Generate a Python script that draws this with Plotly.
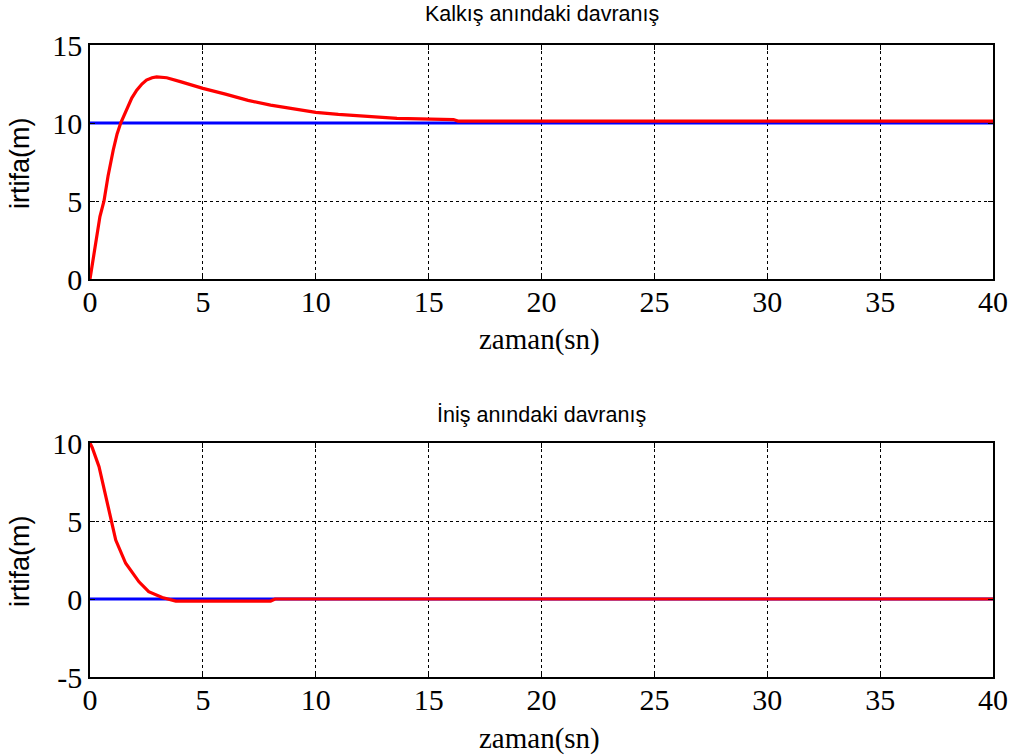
import plotly.graph_objects as go

# --- data ---
t_kalkis = [0, 0.15, 0.3, 0.44, 0.62, 0.8, 1.03, 1.2, 1.36, 1.62, 1.85, 2.07, 2.3, 2.5, 2.75, 2.95, 3.4,
            4.0, 5.0, 6.0, 7.0, 8.0, 9.0, 10.0, 11.0, 12.0, 13.6, 16.1, 16.3, 40]
h_kalkis = [0, 1.3, 2.7, 4.0, 5.0, 6.6, 8.27, 9.3, 10.0, 10.83, 11.6, 12.1, 12.5, 12.75, 12.9, 12.95, 12.9,
            12.65, 12.22, 11.85, 11.45, 11.15, 10.9, 10.68, 10.55, 10.45, 10.3, 10.22, 10.12, 10.12]
t_ref_kalkis = [0, 40]
ref_kalkis = [10, 10]

t_inis = [0, 0.1, 0.4, 0.84, 1.14, 1.58, 2.17, 2.6, 3.2, 3.8, 8.0, 8.2, 40]
h_inis = [10, 9.7, 8.48, 5.7, 3.78, 2.29, 1.1, 0.47, 0.1, -0.13, -0.13, 0.0, 0.0]
t_ref_inis = [0, 40]
ref_inis = [0, 0]

x_ticks = [0, 5, 10, 15, 20, 25, 30, 35, 40]
y_ticks_top = [0, 5, 10, 15]
y_ticks_bot = [-5, 0, 5, 10]
y_ticktext_bot = ["-5", "0", "5", "10"]

W, H = 1023, 755
SERIF = "Liberation Serif, Times New Roman, serif"
SANS = "Liberation Sans, Arial, sans-serif"

fig = go.Figure()
fig.add_trace(go.Scatter(x=t_ref_kalkis, y=ref_kalkis, mode="lines",
                         line=dict(color="#0000ff", width=3), xaxis="x", yaxis="y"))
fig.add_trace(go.Scatter(x=t_kalkis, y=h_kalkis, mode="lines",
                         line=dict(color="#ff0000", width=3.2), xaxis="x", yaxis="y"))
fig.add_trace(go.Scatter(x=t_ref_inis, y=ref_inis, mode="lines",
                         line=dict(color="#0000ff", width=3), xaxis="x2", yaxis="y2"))
fig.add_trace(go.Scatter(x=t_inis, y=h_inis, mode="lines",
                         line=dict(color="#ff0000", width=3.2), xaxis="x2", yaxis="y2"))

tickfont = dict(family=SERIF, size=30, color="black")
axis_common = dict(showline=True, mirror="allticks", linecolor="black", linewidth=1.5,
                   ticks="inside", ticklen=5, tickcolor="black", tickwidth=1,
                   showgrid=True, gridcolor="black", griddash="dot", gridwidth=1,
                   zeroline=False, tickfont=tickfont, automargin=False)

x0, x1 = 90, 993
top_y0, top_y1 = 45, 279
bot_y0, bot_y1 = 443, 677
xdom = [x0 / W, x1 / W]

def px_x(p):
    return p / W

def px_y(p):
    return 1 - p / H

annotations = []
for title, ty in [("Kalkış anındaki davranış", 14), ("İniş anındaki davranış", 415)]:
    annotations.append(dict(text=title, x=px_x((x0 + x1) / 2), y=px_y(ty), xref="paper", yref="paper",
                            showarrow=False, xanchor="center", yanchor="middle",
                            font=dict(family=SANS, size=21.5, color="black")))
for ly in [339, 738]:
    annotations.append(dict(text="zaman(sn)", x=px_x(539), y=px_y(ly), xref="paper", yref="paper",
                            showarrow=False, xanchor="center", yanchor="middle",
                            font=dict(family=SERIF, size=29, color="black")))
for cy in [(top_y0 + top_y1) / 2 + 2, (bot_y0 + bot_y1) / 2 + 2]:
    annotations.append(dict(text="irtifa(m)", x=px_x(20), y=px_y(cy), xref="paper", yref="paper",
                            showarrow=False, xanchor="center", yanchor="middle", textangle=-90,
                            font=dict(family=SANS, size=27, color="black")))

fig.update_layout(
    width=W, height=H,
    margin=dict(l=0, r=0, t=0, b=0),
    paper_bgcolor="white", plot_bgcolor="white",
    showlegend=False,
    xaxis=dict(domain=xdom, anchor="y", range=[0, 40], tickvals=x_ticks, ticklabelstandoff=-5,
               **axis_common),
    yaxis=dict(domain=[px_y(top_y1), px_y(top_y0)], anchor="x", range=[0, 15],
               tickvals=y_ticks_top, **axis_common),
    xaxis2=dict(domain=xdom, anchor="y2", range=[0, 40], tickvals=x_ticks, ticklabelstandoff=-5,
                **axis_common),
    yaxis2=dict(domain=[px_y(bot_y1), px_y(bot_y0)], anchor="x2", range=[-5, 10],
                tickvals=y_ticks_bot, ticktext=y_ticktext_bot, **axis_common),
    annotations=annotations,
)

fig.write_html("out.html", config={"displayModeBar": False},
               post_script="document.body.style.margin='0px';document.body.style.overflow='hidden';")
